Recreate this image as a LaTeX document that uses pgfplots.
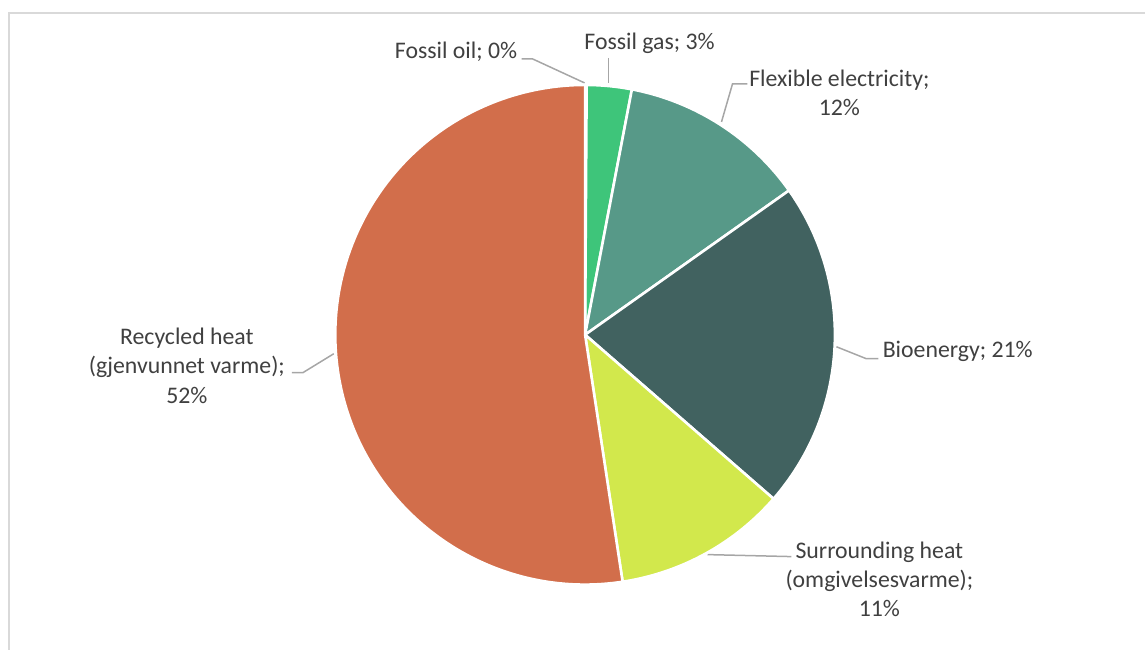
\documentclass[border=0pt]{standalone}
\usepackage{pgfplots}
\pgfplotsset{compat=1.18}
\usepackage{pgfplotstable}
\usepackage{fontspec}
\setmainfont{Carlito}
\definecolor{oilc}{HTML}{2E4A45}
\definecolor{gasc}{HTML}{3EC57A}
\definecolor{flexc}{HTML}{579988}
\definecolor{bioc}{HTML}{416260}
\definecolor{surrc}{HTML}{D2E84C}
\definecolor{recc}{HTML}{D26E4B}
\definecolor{txt}{HTML}{404040}
\definecolor{lead}{HTML}{A6A6A6}
\definecolor{frame}{HTML}{D9D9D9}
\pgfplotstableread{
share col
0.1 oilc
2.9 gasc
12.2 flexc
21.2 bioc
11.2 surrc
52.4 recc
}\piedata
\begin{document}
\begin{tikzpicture}
\begin{axis}[hide axis, scale only axis, width=573pt, height=325pt,
  xmin=0, xmax=1146, ymin=0, ymax=650, clip=false]
\path (rel axis cs:0,0) rectangle (rel axis cs:1,1);
\draw[frame, line width=0.8pt] (axis cs:9,0) -- (axis cs:9,637) -- (axis cs:1146,637);
\coordinate (C) at (axis cs:585.5,315);
\begin{scope}[lead, line width=0.75pt]
\draw (axis cs:522,591) -- (axis cs:533,591) -- (axis cs:585,567);
\draw (axis cs:609,592) -- (axis cs:609,567);
\draw (axis cs:748,566) -- (axis cs:733,566) -- (axis cs:722,528);
\draw (axis cs:837,303) -- (axis cs:867,291) -- (axis cs:879,291);
\draw (axis cs:334,296) -- (axis cs:303,277) -- (axis cs:292,277);
\draw (axis cs:708,95) -- (axis cs:792,93);
\end{scope}
\begin{scope}[every node/.style={text=txt, inner sep=0pt, align=center, font=\fontsize{11.9}{14.6}\selectfont}]
\node[anchor=east] at (axis cs:518,598) {Fossil oil; 0\%};
\node at (axis cs:650,607) {Fossil gas; 3\%};
\node at (axis cs:840,557) {Flexible electricity;\\12\%};
\node[anchor=west] at (axis cs:883,298) {Bioenergy; 21\%};
\node at (axis cs:187,284) {Recycled heat\\(gjenvunnet varme);\\52\%};
\node at (axis cs:880,70) {Surrounding heat\\(omgivelsesvarme);\\11\%};
\end{scope}
\end{axis}
\pgfplotstablegetrowsof{\piedata}
\pgfmathtruncatemacro{\nrows}{\pgfplotsretval-1}
\xdef\cura{90}
\foreach \i in {0,...,\nrows}{
  \pgfplotstablegetelem{\i}{share}\of\piedata \let\v\pgfplotsretval
  \pgfplotstablegetelem{\i}{col}\of\piedata \let\c\pgfplotsretval
  \pgfmathsetmacro{\nexta}{\cura-3.6*\v}
  \filldraw[fill=\c, draw=white, line width=1.3pt, line join=round] (C) -- ++(\cura:125pt) arc[start angle=\cura, end angle=\nexta, radius=125pt] -- cycle;
  \xdef\cura{\nexta}
}
\end{tikzpicture}
\end{document}
